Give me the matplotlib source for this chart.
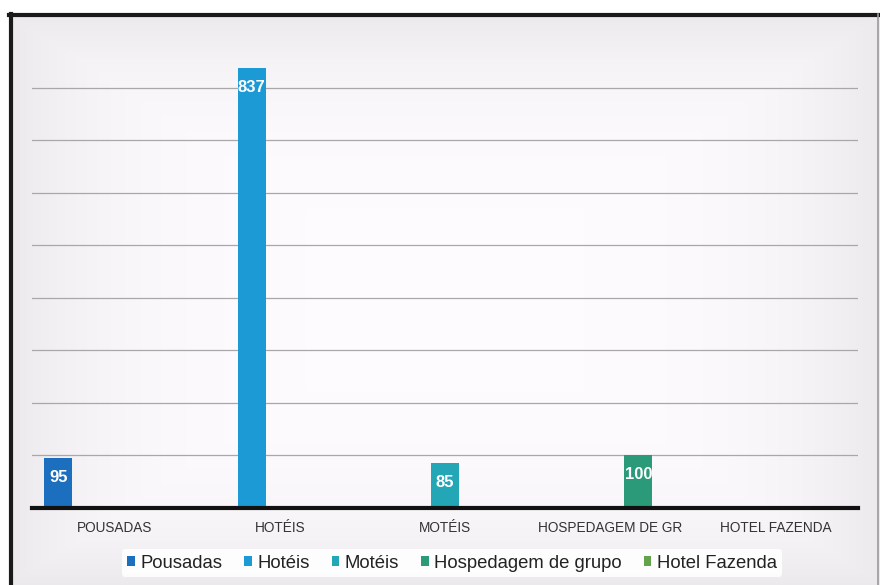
import matplotlib
matplotlib.use("Agg")
import matplotlib.pyplot as plt
from matplotlib.lines import Line2D
import numpy as np

plt.rcParams['font.family'] = ['Liberation Sans', 'DejaVu Sans']

categories = ["POUSADAS", "HOTÉIS", "MOTÉIS", "HOSPEDAGEM DE GR", "HOTEL FAZENDA"]
series_names = ["Pousadas", "Hotéis", "Motéis", "Hospedagem de grupo", "Hotel Fazenda"]
series_values = [95, 837, 85, 100, 0]
series_colors = ["#1c6fbe", "#1b9ad6", "#23a6b6", "#2a9a78", "#62a34c"]

W, H = 880, 585
fig = plt.figure(figsize=(W / 100, H / 100), dpi=100)
fig.patch.set_facecolor("white")

# Paper-like panel: whiter in the middle, greyer towards the edges
pw, ph = W - 10, H - 15
xx = np.linspace(-1, 1, pw)[None, :]
yy = np.linspace(-1, 1, ph)[:, None]
d = np.clip(np.maximum(np.abs(xx) ** 4, np.abs(yy) ** 4), 0, 1)
light = 0.995 - 0.07 * d
rgb = np.dstack([light, light * 0.99, light])
fig.figimage(rgb, xo=10, yo=0, origin="upper", zorder=-5)

fig.add_artist(Line2D([10.5 / W, 10.5 / W], [0, 1 - 14 / H], transform=fig.transFigure,
                      color="#1a1a1a", lw=3))
fig.add_artist(Line2D([9 / W, 1], [1 - 14.5 / H, 1 - 14.5 / H], transform=fig.transFigure,
                      color="#1a1a1a", lw=3))
fig.add_artist(Line2D([878 / W, 878 / W], [0, 1 - 14 / H], transform=fig.transFigure,
                      color="#9a9a9a", lw=1.2))

ax = fig.add_axes([32 / W, 77 / H, 826 / W, 473 / H])
ax.set_zorder(1)
ax.patch.set_alpha(0)

n = len(series_names)
x = np.arange(len(categories))
width = 0.17
for i, (name, val, col) in enumerate(zip(series_names, series_values, series_colors)):
    vals = [val if j == i else 0 for j in range(len(categories))]
    pos = x + (i - (n - 1) / 2) * width
    bars = ax.bar(pos, vals, width=width, color=col, label=name, zorder=3)
    if val > 0:
        b = bars[i]
        ax.annotate(str(val), (b.get_x() + b.get_width() / 2, val),
                    xytext=(0, -19), textcoords="offset pixels",
                    ha="center", va="center", color="white", fontsize=12,
                    fontweight="bold", zorder=4)

ax.set_xlim(-0.5, 4.5)
ax.set_ylim(0, 900)
ax.set_yticks(range(100, 900, 100))
ax.yaxis.grid(True, color="#a8a8a8", lw=0.9, zorder=1)
ax.tick_params(axis="y", left=False, labelleft=False)
ax.tick_params(axis="x", bottom=False, pad=6)
ax.set_xticks(x)
ax.set_xticklabels(categories, fontsize=9.8, color="#333333")
for s in ["top", "right", "left"]:
    ax.spines[s].set_visible(False)
ax.spines["bottom"].set_color("#111111")
ax.spines["bottom"].set_linewidth(3)
ax.spines["bottom"].set_zorder(5)

leg = fig.legend(loc="center", bbox_to_anchor=(452 / W, 1 - 563 / H), ncol=5,
                 frameon=True, fontsize=13.3, handlelength=0.4, handleheight=0.4,
                 handletextpad=0.3, columnspacing=1.2, borderpad=0.3)
leg.set_zorder(6)
leg.get_frame().set_facecolor("white")
leg.get_frame().set_edgecolor("none")
leg.get_frame().set_alpha(0.9)
for t in leg.get_texts():
    t.set_color("#222222")

fig.savefig("out.png", dpi=100)
